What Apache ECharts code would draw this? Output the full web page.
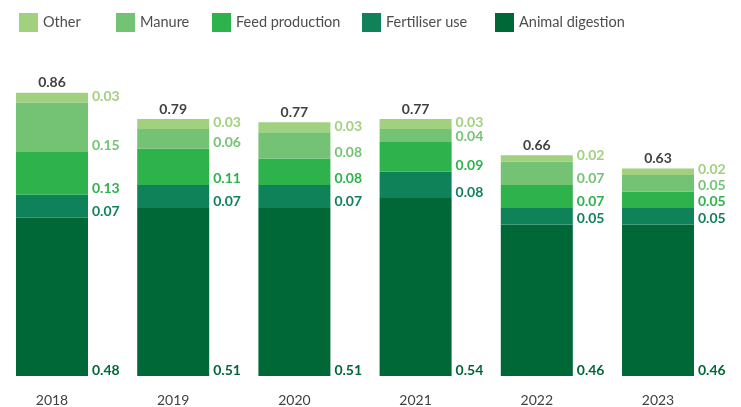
<!DOCTYPE html>
<html>
<head>
<meta charset="utf-8">
<script src="https://cdn.jsdelivr.net/npm/echarts@6/dist/echarts.min.js"></script>
<style>
  html, body { margin: 0; padding: 0; background: #ffffff; }
  #chart { width: 741px; height: 407px; }
</style>
</head>
<body>
<div id="chart"></div>
<script>
// Emissions by source per year (stacked), with the reported totals above each bar
const years = ['2018', '2019', '2020', '2021', '2022', '2023'];
const animalDigestion = [0.48, 0.51, 0.51, 0.54, 0.46, 0.46];
const fertiliserUse   = [0.07, 0.07, 0.07, 0.08, 0.05, 0.05];
const feedProduction  = [0.13, 0.11, 0.08, 0.09, 0.07, 0.05];
const manure          = [0.15, 0.06, 0.08, 0.04, 0.07, 0.05];
const other           = [0.03, 0.03, 0.03, 0.03, 0.02, 0.02];
const totals          = [0.86, 0.79, 0.77, 0.77, 0.66, 0.63];

// Legend entries in display order, each with its own left offset
const legendNames = ['Other', 'Manure', 'Feed production', 'Fertiliser use', 'Animal digestion'];
const legendLeft  = [19, 116, 212, 362, 495];

const FONT = 'Lato, "Open Sans", sans-serif';

const sources = [
  { name: 'Animal digestion', data: animalDigestion, color: '#006837' },
  { name: 'Fertiliser use',   data: fertiliserUse,   color: '#10825a' },
  { name: 'Feed production',  data: feedProduction,  color: '#2eb24b' },
  { name: 'Manure',           data: manure,          color: '#74c374' },
  { name: 'Other',            data: other,           color: '#a1d07e' }
];

const series = sources.map(s => ({
  name: s.name,
  type: 'bar',
  stack: 'total',
  barWidth: 72,
  data: s.data,
  itemStyle: { color: s.color },
  label: {
    show: true,
    position: ['100%', '100%'],
    offset: [4, -6],
    align: 'left',
    verticalAlign: 'middle',
    color: s.color,
    fontFamily: FONT,
    fontSize: 14,
    fontWeight: 'bold',
    formatter: p => p.value.toFixed(2)
  }
}));

// Zero-height cap on each stack that carries the total label
series.push({
  name: 'Total',
  type: 'bar',
  stack: 'total',
  barWidth: 72,
  data: years.map(() => 0),
  itemStyle: { color: 'transparent' },
  label: {
    show: true,
    position: 'top',
    distance: 3,
    color: '#414042',
    fontFamily: FONT,
    fontSize: 14,
    fontWeight: 'bold',
    formatter: p => totals[p.dataIndex].toFixed(2)
  }
});

const legends = legendNames.map((name, i) => ({
  data: [name],
  left: legendLeft[i],
  top: 13,
  padding: 0,
  itemWidth: 19,
  itemHeight: 19,
  icon: 'rect',
  textStyle: { color: '#4d4d4f', fontFamily: FONT, fontSize: 14.5 }
}));

const chart = echarts.init(document.getElementById('chart'));
chart.setOption({
  animation: false,
  backgroundColor: '#ffffff',
  legend: legends,
  grid: { left: 52, right: 83, top: 46.5, bottom: 30.5 },
  xAxis: {
    type: 'category',
    data: years,
    boundaryGap: false,
    axisLine: { show: false },
    axisTick: { show: false },
    axisLabel: { color: '#414042', fontFamily: FONT, fontSize: 14, margin: 17 }
  },
  yAxis: {
    type: 'value',
    min: 0,
    max: 1,
    show: false,
    splitLine: { show: false }
  },
  series: series
});
</script>
</body>
</html>
